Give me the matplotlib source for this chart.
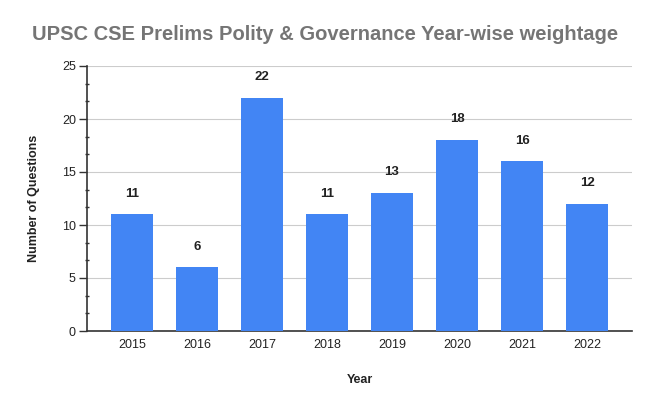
import matplotlib.pyplot as plt
from matplotlib.ticker import MultipleLocator

# Chart data
years = ["2015", "2016", "2017", "2018", "2019", "2020", "2021", "2022"]
questions = [11, 6, 22, 11, 13, 18, 16, 12]

plt.rcParams['font.family'] = ['Liberation Sans', 'DejaVu Sans']

fig = plt.figure(figsize=(6.5, 4.05), dpi=100)
ax = fig.add_axes([87 / 650, 1 - 331 / 405, (632 - 87) / 650, (331 - 66) / 405])

x = list(range(len(years)))
ax.bar(x, questions, width=0.65, color="#4285f4", zorder=3)

for xi, v in zip(x, questions):
    ax.annotate(str(v), (xi, v), xytext=(0, 15), textcoords="offset points",
                ha="center", va="center", fontsize=9.5, fontweight="bold", color="#222222")

ax.set_xlim(-0.69, len(years) - 1 + 0.69)
ax.set_ylim(0, 25)
ax.set_xticks(x)
ax.set_xticklabels(years)
ax.yaxis.set_major_locator(MultipleLocator(5))
ax.yaxis.set_minor_locator(MultipleLocator(5 / 3))

ax.grid(axis="y", which="major", color="#cccccc", linewidth=0.8, zorder=0)
for s in ["top", "right"]:
    ax.spines[s].set_visible(False)
ax.spines["left"].set_color("#333333")
ax.spines["bottom"].set_color("#333333")
ax.spines["left"].set_linewidth(1.2)
ax.spines["bottom"].set_linewidth(1.2)

ax.tick_params(axis="y", which="major", length=6, width=1, color="#333333",
               labelsize=9, labelcolor="#222222", pad=2)
ax.tick_params(axis="y", which="minor", length=3, width=1, color="#333333", direction="inout")
ax.tick_params(axis="x", length=0, labelsize=9, labelcolor="#222222", pad=6)

ax.set_xlabel("Year", fontsize=9, fontweight="bold", color="#222222", labelpad=16)
ax.set_ylabel("Number of Questions", fontsize=9, fontweight="bold", color="#222222", labelpad=16)

fig.text(325 / 650, 1 - 35 / 405, "UPSC CSE Prelims Polity & Governance Year-wise weightage",
         ha="center", va="center", fontsize=14.5, fontweight="bold", color="#757575")

fig.savefig("out.png", dpi=100)
